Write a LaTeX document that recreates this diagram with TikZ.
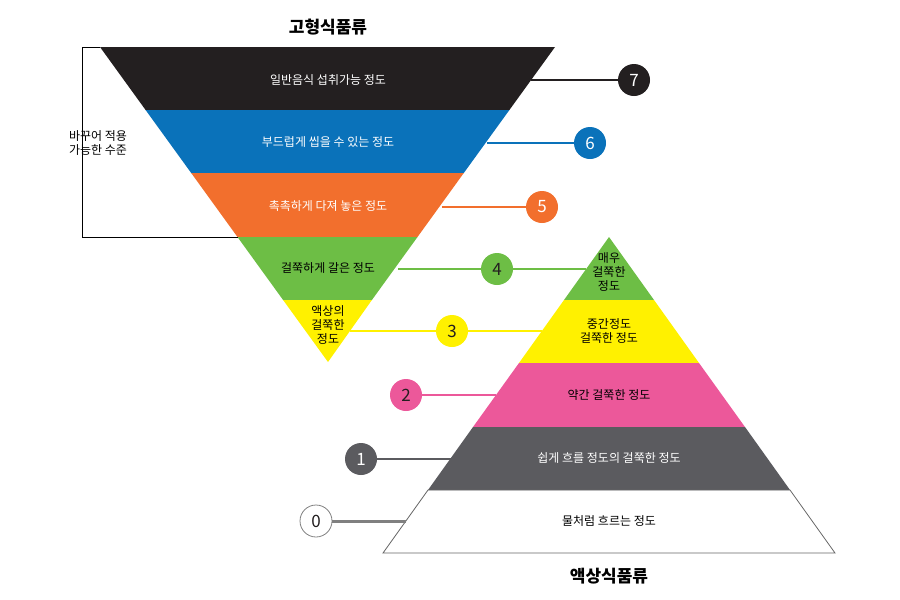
\documentclass[tikz,border=0pt]{standalone}
\usepackage{fontspec}
\setmainfont{Noto Sans CJK KR}
\definecolor{cblk}{HTML}{231F20}
\definecolor{cblue}{HTML}{0A72BA}
\definecolor{corg}{HTML}{F26F2D}
\definecolor{cgrn}{HTML}{6DBE45}
\definecolor{cyel}{HTML}{FFF100}
\definecolor{cpink}{HTML}{EC589A}
\definecolor{cgray}{HTML}{5B5B5F}
\begin{document}
\begin{tikzpicture}[x=1pt,y=-1pt,
 lbl/.style={font=\fontsize{12}{14}\selectfont,align=center,inner sep=0pt},
 num/.style={circle,minimum size=32pt,inner sep=0pt,font=\fontsize{17}{18}\selectfont,text=white},
 conn/.style={line width=2pt}]
\useasboundingbox (0,0) rectangle (900,600);
% inverted triangle
\fill[cblk] (100,47)--(555,47)--(509.4,110)--(145.6,110)--cycle;
\fill[cblue] (145.6,110)--(509.4,110)--(463.8,173)--(191.2,173)--cycle;
\fill[corg] (191.2,173)--(463.8,173)--(417.5,237)--(237.5,237)--cycle;
\fill[cgrn] (237.5,237)--(417.5,237)--(371.9,300)--(283.1,300)--cycle;
\fill[cyel] (283.1,300)--(371.9,300)--(328,362)--cycle;
% pyramid
\fill[cgrn] (609,237)--(654,300)--(564,300)--cycle;
\fill[cyel] (564,300)--(654,300)--(699,363)--(519,363)--cycle;
\fill[cpink] (519,363)--(699,363)--(745,427)--(473,427)--cycle;
\fill[cgray] (473,427)--(745,427)--(790,490)--(428,490)--cycle;
\draw[gray!80!black,line width=0.8pt] (428,490)--(790,490)--(835,553)--(383,553)--cycle;
% bracket
\draw[line width=0.8pt] (100,47)--(82,47)--(82,237)--(237.5,237);
\node[lbl] (br) at (98,143) {바꾸어 적용\\가능한 수준};
% titles
\node[font=\fontsize{17}{18}\selectfont\bfseries] (t1) at (328,27) {고형식품류};
\node[font=\fontsize{17}{18}\selectfont\bfseries] (t2) at (609,576) {액상식품류};
% layer labels
\node[lbl,text=white] (l7) at (328,80) {일반음식 섭취가능 정도};
\node[lbl,text=white] (l6) at (328,142) {부드럽게 씹을 수 있는 정도};
\node[lbl,text=white] (l5) at (328,206) {촉촉하게 다져 놓은 정도};
\node[lbl] (l4) at (328,268) {걸쭉하게 갈은 정도};
\node[lbl] (l3) at (328,325) {액상의\\걸쭉한\\정도};
\node[lbl] (r4) at (609,272) {매우\\걸쭉한\\정도};
\node[lbl] (r3) at (609,331) {중간정도\\걸쭉한 정도};
\node[lbl] (r2) at (609,395) {약간 걸쭉한 정도};
\node[lbl,text=white] (r1) at (609,458) {쉽게 흐를 정도의 걸쭉한 정도};
\node[lbl] (r0) at (609,521) {물처럼 흐르는 정도};
% circles
\node[num,fill=cblk] (c7) at (634,80) {7};
\node[num,fill=cblue] (c6) at (590,143) {6};
\node[num,fill=corg] (c5) at (542,207) {5};
\node[num,fill=cgrn,text=cblk] (c4) at (497,269) {4};
\node[num,fill=cyel,text=cblk] (c3) at (452,331) {3};
\node[num,fill=cpink,text=cblk] (c2) at (406,395) {2};
\node[num,fill=cgray] (c1) at (361,459) {1};
\node[num,fill=white,draw=gray,line width=0.8pt,text=cblk] (c0) at (316,521) {0};
% anchor coordinates
\coordinate (a7) at (531,80);
\coordinate (a6) at (486.6,143);
\coordinate (a5) at (442,207);
\coordinate (a4) at (398,269);
\coordinate (b4) at (586,269);
\coordinate (a3) at (350,331);
\coordinate (b3) at (542,331);
\coordinate (b2) at (496,395);
\coordinate (b1) at (451,459);
\coordinate (b0) at (406,521);
\begin{scope}[on background layer/.style={}]
\draw[conn,cblk] (a7)--(c7);
\draw[conn,cblue] (a6)--(c6);
\draw[conn,corg] (a5)--(c5);
\draw[conn,cgrn] (a4)--(c4)--(b4);
\draw[conn,cyel] (a3)--(c3)--(b3);
\draw[conn,cpink] (c2)--(b2);
\draw[conn,cgray] (c1)--(b1);
\draw[line width=3pt,gray] (c0)--(b0);
\end{scope}
\end{tikzpicture}
\end{document}
